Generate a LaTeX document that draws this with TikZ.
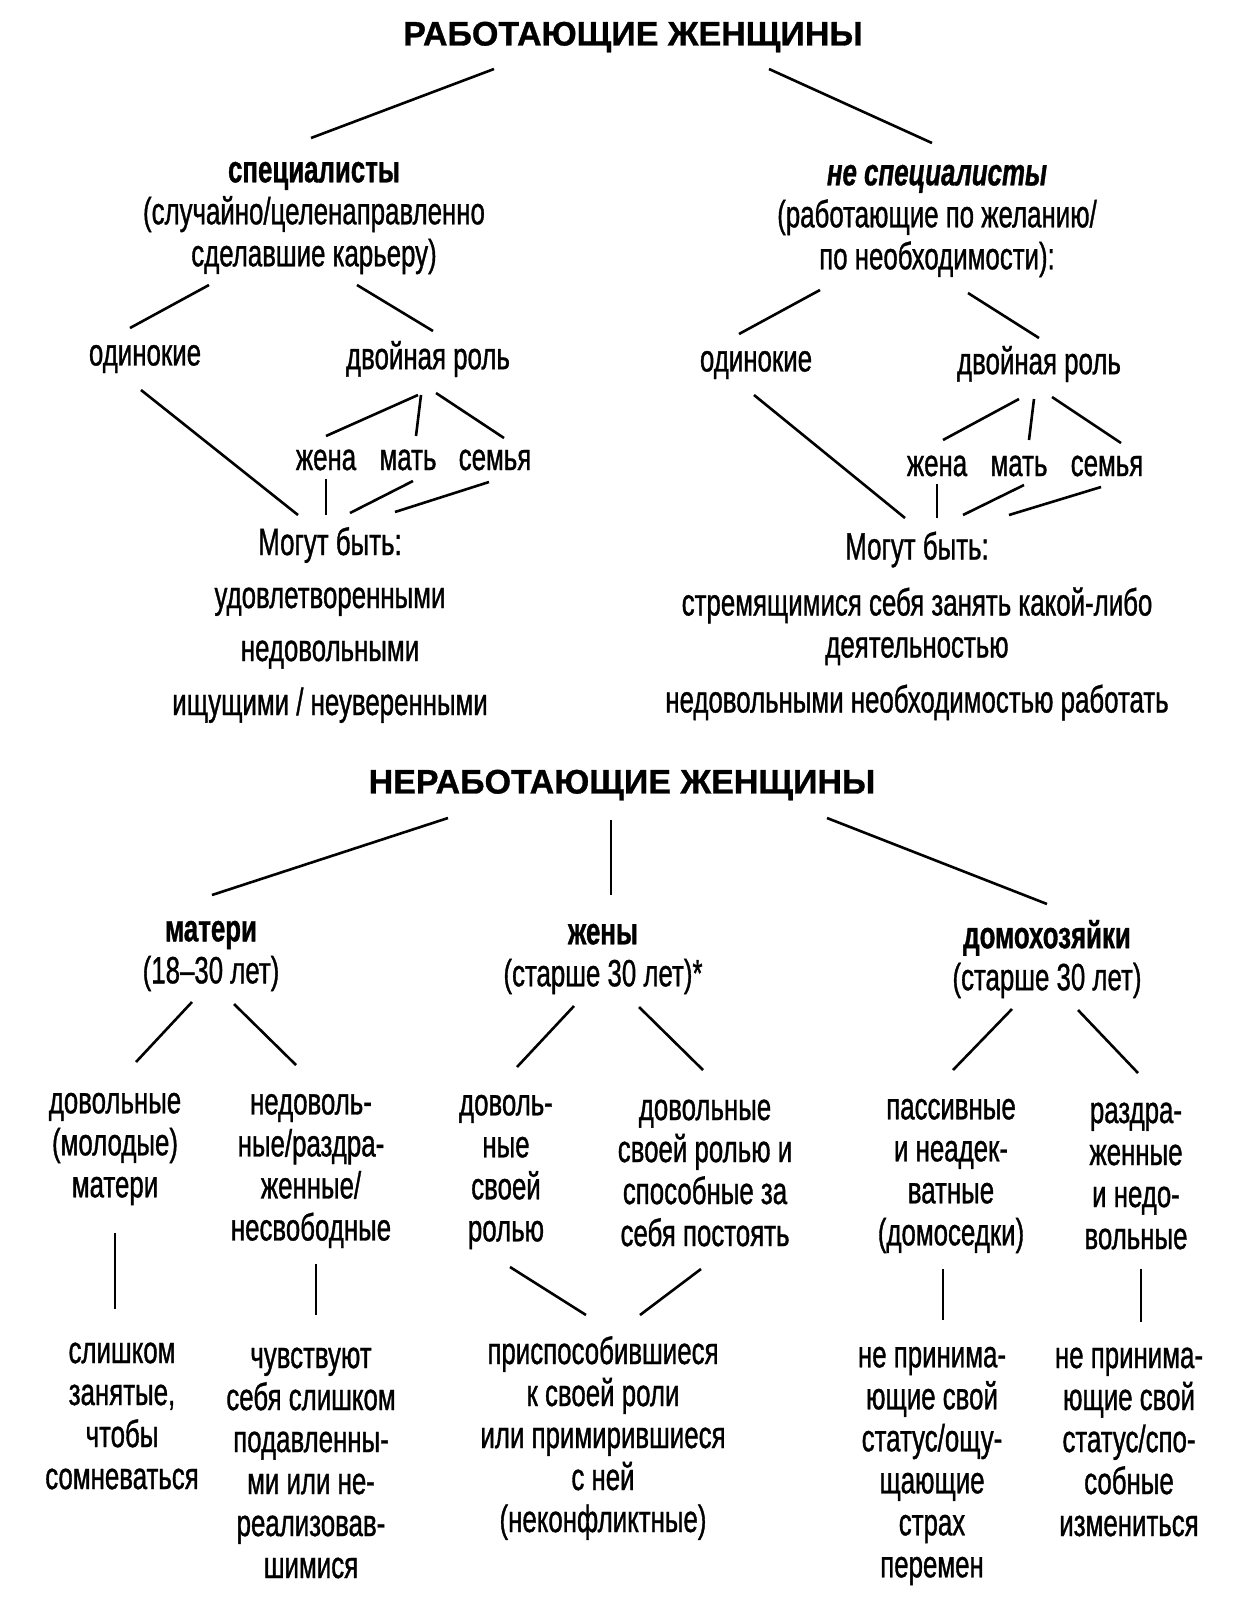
\documentclass[tikz,border=0pt]{standalone}
\usepackage{fontspec}
\setmainfont{Liberation Sans}[FakeStretch=0.68,FakeBold=0.9]
\newfontfamily\headfont{Liberation Sans}[FakeBold=0.9]
\usetikzlibrary{calc}
\newcommand{\bodysize}{\fontsize{19}{21}\selectfont}

\begin{document}
\begin{tikzpicture}[x=0.5pt,y=-0.5pt,
    title/.style={font=\headfont\bfseries\fontsize{17}{20}\selectfont,inner sep=0pt},
    lbl/.style={font=\bodysize,align=center,inner sep=0pt},
    link/.style={line width=1.3pt}
  ]
    \fill[white] (0,0) rectangle (1240,1597);
    % working women
    \node[title] (rw) at (633,37) {РАБОТАЮЩИЕ ЖЕНЩИНЫ};
    \node[lbl] (spec) at (314,218) {\textbf{специалисты}\\(случайно/целенаправленно\\сделавшие карьеру)};
    \node[lbl] (nspec) at (937,221) {\textbf{\textit{не специалисты}}\\(работающие по желанию/\\по необходимости):};
    \node[lbl] (lsingle) at (145,359) {одинокие};
    \node[lbl] (ldual) at (428,359) {двойная роль};
    \node[lbl] (rsingle) at (756,365) {одинокие};
    \node[lbl] (rdual) at (1039,364) {двойная роль};
    \node[lbl] (lwife) at (326,460) {жена};
    \node[lbl] (lmother) at (408,460) {мать};
    \node[lbl] (lfamily) at (495,460) {семья};
    \node[lbl] (rwife) at (937,466) {жена};
    \node[lbl] (rmother) at (1019,466) {мать};
    \node[lbl] (rfamily) at (1107,466) {семья};
    \node[lbl] (lmay) at (330,625) {Могут быть:\\[5.5pt]удовлетворенными\\[5.5pt]недовольными\\[6pt]ищущими / неуверенными};
    \node[lbl] (rmay) at (917,626) {Могут быть:\\[7pt]стремящимися себя занять какой-либо\\деятельностью\\[6.5pt]недовольными необходимостью работать};
    \draw[link] ($(rw)+(-139,32)$) -- ($(spec)+(-3,-80)$);
    \draw[link] ($(rw)+(136,32)$) -- ($(nspec)+(-5,-78)$);
    \draw[link] ($(spec)+(-105,67)$) -- ($(lsingle)+(-15,-31)$);
    \draw[link] ($(spec)+(43,67)$) -- ($(ldual)+(5,-28)$);
    \draw[link] ($(nspec)+(-117,69)$) -- ($(rsingle)+(-17,-31)$);
    \draw[link] ($(nspec)+(31,72)$) -- ($(rdual)+(0,-26)$);
    \draw[link] ($(lsingle)+(-4,31)$) -- ($(lmay)+(-32,-110)$);
    \draw[link] ($(ldual)+(-10,36)$) -- ($(lwife)+(0,-24)$);
    \draw[link] ($(ldual)+(-7,36)$) -- ($(lmother)+(8,-24)$);
    \draw[link] ($(ldual)+(8,34)$) -- ($(lfamily)+(9,-22)$);
    \draw[link] ($(lwife)+(0,19)$) -- ($(lmay)+(-4,-110)$);
    \draw[link] ($(lmother)+(5,21)$) -- ($(lmay)+(20,-112)$);
    \draw[link] ($(lfamily)+(-6,22)$) -- ($(lmay)+(65,-113)$);
    \draw[link] ($(rsingle)+(-2,30)$) -- ($(rmay)+(-12,-108)$);
    \draw[link] ($(rdual)+(-20,35)$) -- ($(rwife)+(6,-26)$);
    \draw[link] ($(rdual)+(-5,35)$) -- ($(rmother)+(10,-26)$);
    \draw[link] ($(rdual)+(13,33)$) -- ($(rfamily)+(14,-23)$);
    \draw[link] ($(rwife)+(0,18)$) -- ($(rmay)+(20,-108)$);
    \draw[link] ($(rmother)+(5,19)$) -- ($(rmay)+(46,-111)$);
    \draw[link] ($(rfamily)+(-6,21)$) -- ($(rmay)+(92,-111)$);
    % non-working women
    \node[title] (nw) at (622,785) {НЕРАБОТАЮЩИЕ ЖЕНЩИНЫ};
    \node[lbl] (moth) at (211,956) {\textbf{матери}\\(18–30 лет)};
    \node[lbl] (wives) at (603,959) {\textbf{жены}\\(старше 30 лет)*};
    \node[lbl] (house) at (1047,959) {\textbf{домохозяйки}\\(старше 30 лет)};
    \node[lbl] (mhappy) at (115,1149) {довольные\\(молодые)\\матери};
    \node[lbl] (munhappy) at (311,1171) {недоволь-\\ные/раздра-\\женные/\\несвободные};
    \node[lbl] (whappy) at (506,1172) {доволь-\\ные\\своей\\ролью};
    \node[lbl] (wstand) at (705,1173) {довольные\\своей ролью и\\способные за\\себя постоять};
    \node[lbl] (hpass) at (951,1176) {пассивные\\и неадек-\\ватные\\(домоседки)};
    \node[lbl] (hirr) at (1136,1176) {раздра-\\женные\\и недо-\\вольные};
    \node[lbl] (busy) at (122,1416) {слишком\\занятые,\\чтобы\\сомневаться};
    \node[lbl] (oppr) at (311,1463) {чувствуют\\себя слишком\\подавленны-\\ми или не-\\реализовав-\\шимися};
    \node[lbl] (adapt) at (603,1438) {приспособившиеся\\к своей роли\\или примирившиеся\\с ней\\(неконфликтные)};
    \node[lbl] (fear) at (932,1466) {не принима-\\ющие свой\\статус/ощу-\\щающие\\страх\\перемен};
    \node[lbl] (change) at (1129,1442) {не принима-\\ющие свой\\статус/спо-\\собные\\измениться};
    \draw[link] ($(nw)+(-174,33)$) -- ($(moth)+(1,-61)$);
    \draw[link] ($(nw)+(-11,35)$) -- ($(wives)+(8,-64)$);
    \draw[link] ($(nw)+(205,33)$) -- ($(house)+(0,-55)$);
    \draw[link] ($(moth)+(-19,46)$) -- ($(mhappy)+(21,-87)$);
    \draw[link] ($(moth)+(23,48)$) -- ($(munhappy)+(-15,-106)$);
    \draw[link] ($(wives)+(-29,47)$) -- ($(whappy)+(11,-105)$);
    \draw[link] ($(wives)+(36,48)$) -- ($(wstand)+(-2,-103)$);
    \draw[link] ($(house)+(-35,50)$) -- ($(hpass)+(2,-106)$);
    \draw[link] ($(house)+(31,51)$) -- ($(hirr)+(2,-103)$);
    \draw[link] ($(mhappy)+(0,84)$) -- ($(busy)+(-7,-107)$);
    \draw[link] ($(munhappy)+(5,93)$) -- ($(oppr)+(5,-148)$);
    \draw[link] ($(whappy)+(4,95)$) -- ($(adapt)+(-17,-123)$);
    \draw[link] ($(wstand)+(-4,96)$) -- ($(adapt)+(37,-123)$);
    \draw[link] ($(hpass)+(-8,93)$) -- ($(fear)+(11,-146)$);
    \draw[link] ($(hirr)+(5,93)$) -- ($(change)+(12,-120)$);
  \end{tikzpicture}
\end{document}
